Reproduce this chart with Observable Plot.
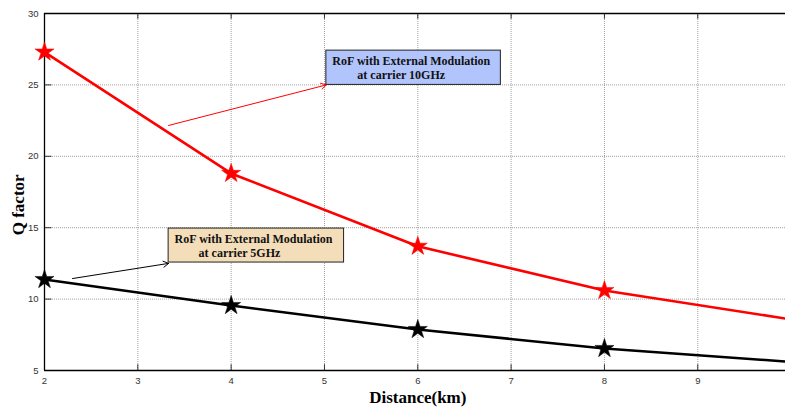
<!DOCTYPE html>
<html><head><meta charset="utf-8">
<script src="https://cdn.jsdelivr.net/npm/d3@7"></script>
<script src="https://cdn.jsdelivr.net/npm/@observablehq/plot@0.6"></script>
<style>body{margin:0;background:#fff}</style>
</head><body><div id="chart"></div>
<script>
const distance = [2, 4, 6, 8, 9.94];
const q10GHz = [27.3, 18.8, 13.7, 10.6, 8.64];
const q5GHz = [11.37, 9.55, 7.87, 6.54, 5.63];
const markerDistance = [2, 4, 6, 8];
const xTicks = [2, 3, 4, 5, 6, 7, 8, 9];
const yTicks = [5, 10, 15, 20, 25, 30];
const boxLabels = ["RoF with External Modulation", "at carrier 10GHz", "at carrier 5GHz"];
// annotation boxes [x1, x2, y1, y2]
const box10 = [5.02, 6.89, 25.0, 27.4];
const box5 = [3.33, 5.21, 12.56, 14.94];
const arrow10 = [3.33, 22.16, 5.02, 25.0];
const arrow5 = [2.3, 11.44, 3.33, 12.5];

const red = distance.map((d, i) => ({x: d, y: q10GHz[i]}));
const blk = distance.map((d, i) => ({x: d, y: q5GHz[i]}));
const redM = red.filter(d => markerDistance.includes(d.x));
const blkM = blk.filter(d => markerDistance.includes(d.x));

const serif = "'Liberation Serif', 'Times New Roman', serif";
const boxText = (box, label, dx, dy) => Plot.text([box], {x: d => d[0], y: d => d[3], dx, dy, text: () => label, textAnchor: "start", fontFamily: serif, fontWeight: "bold", fontSize: 12, fill: "#111"});
const chart = Plot.plot({
  width: 785, height: 409,
  marginLeft: 44, marginRight: 0, marginTop: 13, marginBottom: 39,
  style: {fontFamily: "'Liberation Sans', Arial, sans-serif", fontSize: "9.5px", color: "#333", background: "#fff"},
  x: {domain: [2, 9.94]},
  y: {domain: [5, 30]},
  marks: [
    Plot.gridX(xTicks, {stroke: "#888", strokeOpacity: 0.8, strokeDasharray: "1,1"}),
    Plot.gridY(yTicks, {stroke: "#888", strokeOpacity: 0.8, strokeDasharray: "1,1"}),
    Plot.axisX(xTicks, {tickSize: 0, tickPadding: 7, label: null, fill: "#333"}),
    Plot.axisY(yTicks, {tickSize: 0, tickPadding: 6, label: null, fill: "#333"}),
    Plot.ruleX(xTicks, {x: d => d, y1: 5, y2: 5.4, stroke: "#333"}),
    Plot.ruleX(xTicks, {x: d => d, y1: 30, y2: 29.6, stroke: "#333"}),
    Plot.ruleY(yTicks, {y: d => d, x1: 2, x2: 2.08, stroke: "#333"}),
    Plot.ruleX([2], {stroke: "#000", strokeWidth: 1.3}),
    Plot.ruleY([5, 30], {stroke: "#000", strokeWidth: 1.3}),
    Plot.line(red, {x: "x", y: "y", stroke: "#ff0000", strokeWidth: 2.6}),
    Plot.line(blk, {x: "x", y: "y", stroke: "#000", strokeWidth: 2.6}),
    Plot.dot(redM, {x: "x", y: "y", symbol: "star", r: 6, fill: "#ff0000", stroke: "#ff0000", strokeWidth: 0.5}),
    Plot.dot(blkM, {x: "x", y: "y", symbol: "star", r: 6, fill: "#000", stroke: "#000", strokeWidth: 0.5}),
    Plot.arrow([arrow10], {x1: d => d[0], y1: d => d[1], x2: d => d[2], y2: d => d[3], stroke: "#ff0000", strokeWidth: 1, headLength: 9}),
    Plot.arrow([arrow5], {x1: d => d[0], y1: d => d[1], x2: d => d[2], y2: d => d[3], stroke: "#000", strokeWidth: 1, headLength: 9}),
    Plot.rect([box10], {x1: d => d[0], x2: d => d[1], y1: d => d[2], y2: d => d[3], fill: "#b1c4fb", stroke: "#222", strokeWidth: 1}),
    Plot.rect([box5], {x1: d => d[0], x2: d => d[1], y1: d => d[2], y2: d => d[3], fill: "#f4ddb9", stroke: "#222", strokeWidth: 1}),
    boxText(box10, boxLabels[0], 6, 11),
    boxText(box10, boxLabels[1], 31, 25),
    boxText(box5, boxLabels[0], 6, 11),
    boxText(box5, boxLabels[2], 30, 25),
    Plot.text(["Distance(km)"], {x: 6.0, y: 5, dy: 27, text: d => d, fontFamily: serif, fontWeight: "bold", fontSize: 17, fill: "#000"}),
    Plot.text(["Q factor"], {x: 2, y: 16.6, dx: -26, rotate: -90, text: d => d, fontFamily: serif, fontWeight: "bold", fontSize: 17, fill: "#000"})
  ]
});
document.getElementById("chart").append(chart);
</script>
</body></html>
